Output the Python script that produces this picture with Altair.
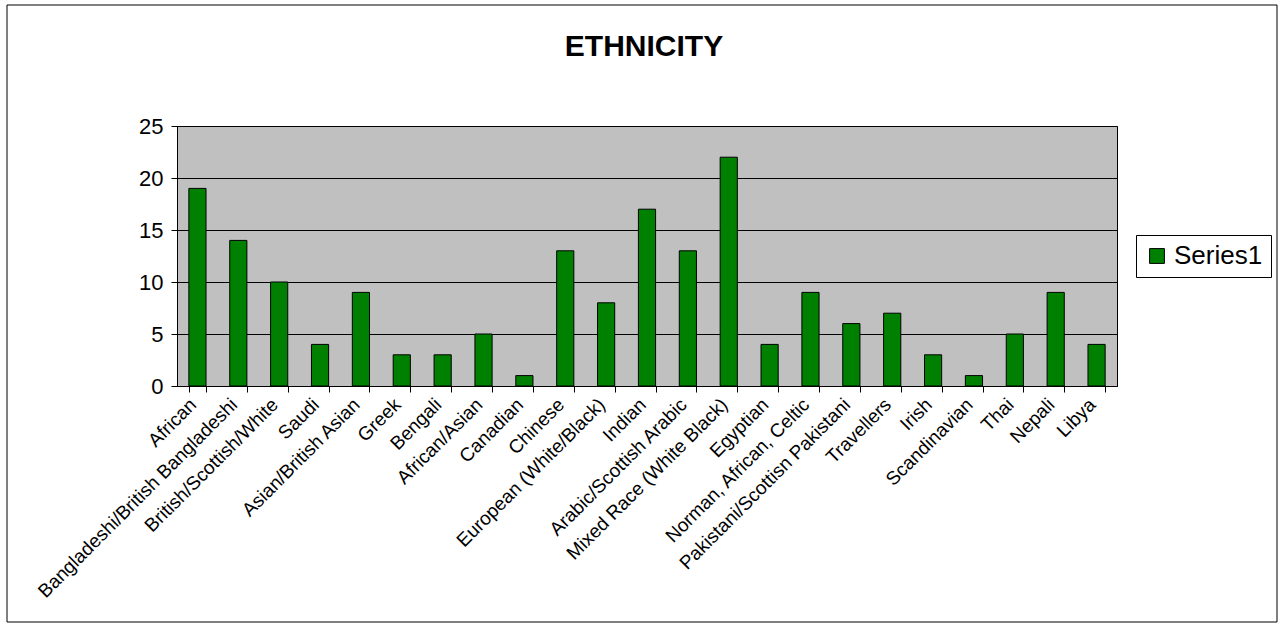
import altair as alt
import pandas as pd

categories = [
    "African", "Bangladeshi/British Bangladeshi", "British/Scottish/White", "Saudi",
    "Asian/British Asian", "Greek", "Bengali", "African/Asian", "Canadian", "Chinese",
    "European (White/Black)", "Indian", "Arabic/Scottish Arabic", "Mixed Race (White Black)",
    "Egyptian", "Norman, African, Celtic", "Pakistani/Scottisn Pakistani", "Travellers",
    "Irish", "Scandinavian", "Thai", "Nepali", "Libya",
]
values = [19, 14, 10, 4, 9, 3, 3, 5, 1, 13, 8, 17, 13, 22, 4, 9, 6, 7, 3, 1, 5, 9, 4]
series_name = ["Series1"]
y_ticks = [0, 5, 10, 15, 20, 25]
title_text = ["ETHNICITY"]

df = pd.DataFrame({"cat": categories, "val": values, "series": series_name * len(values)})
tdf = pd.DataFrame({"t": title_text})

FONT = "Liberation Sans"
W, H = 940, 260
LEFT, TOP = 177, 126

bars = alt.Chart(df).mark_bar(stroke="black", strokeWidth=1).encode(
    x=alt.X("cat:N", sort=categories,
            scale=alt.Scale(paddingInner=0.58, paddingOuter=0.29),
            axis=alt.Axis(title=None, labelAngle=-45, labelAlign="right", labelBaseline="top",
                          labelFontSize=19, labelFont=FONT, labelColor="black",
                          labelPadding=3, labelOffset=-11, labelOverlap=False, labelLimit=0,
                          domainColor="black", tickColor="black", tickSize=6,
                          tickBand="extent", grid=False)),
    y=alt.Y("val:Q", scale=alt.Scale(domain=[0, 25], nice=False),
            axis=alt.Axis(title=None, values=y_ticks, labelFontSize=22, labelFont=FONT,
                          labelColor="black", labelPadding=8, domainColor="black",
                          tickColor="black", tickSize=6, grid=True, gridColor="black",
                          gridOpacity=1, gridWidth=1)),
    color=alt.Color("series:N", scale=alt.Scale(range=["#008000"]),
                    legend=alt.Legend(title=None, orient="none", legendX=W + 19, legendY=109,
                                      labelFontSize=26, labelFont=FONT, labelColor="black",
                                      symbolType="square", symbolSize=220,
                                      symbolStrokeColor="black", symbolStrokeWidth=1,
                                      strokeColor="black", padding=8, fillColor="white")),
)

border = alt.Chart(tdf).mark_rect(fill="white", fillOpacity=0, stroke="black",
                                  strokeWidth=1, clip=False).encode(
    x=alt.value(7 - LEFT), x2=alt.value(1277 - LEFT),
    y=alt.value(5 - TOP), y2=alt.value(622 - TOP),
)

title = alt.Chart(tdf).mark_text(font=FONT, fontSize=30, fontWeight="bold", color="black",
                                 align="center", baseline="middle").encode(
    text="t:N", x=alt.value(644 - LEFT), y=alt.value(47 - TOP),
)

chart = alt.layer(bars, border, title).properties(
    width=W, height=H,
    background="white",
    autosize=alt.AutoSizeParams(type="none"),
    padding={"left": LEFT, "top": TOP, "right": 1282 - LEFT - W, "bottom": 630 - TOP - H},
).configure_view(fill="#C0C0C0", stroke="black", strokeWidth=1)

chart.save("out.html", embed_options={"renderer": "svg", "actions": False})
